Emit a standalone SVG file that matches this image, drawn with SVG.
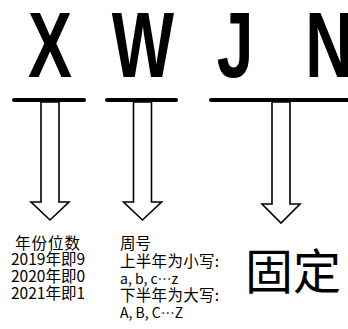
<svg xmlns="http://www.w3.org/2000/svg" width="348" height="329" viewBox="0 0 348 329" xml:lang="zh-CN" lang="zh-CN">
<style>
.big{font-family:"Liberation Sans",Arial,sans-serif;font-weight:bold;font-size:93px;fill:#000;text-anchor:middle}
.t{font-family:"Noto Sans CJK SC",sans-serif;font-size:15.5px;fill:#000}
.s{font-size:14px}
.bar{stroke:#000;stroke-width:4;stroke-linecap:round;fill:none}
.arr{fill:#fff;stroke:#000;stroke-width:1.6;stroke-linejoin:miter}
</style>
<rect width="348" height="329" fill="#fff"/>
<g id="letters">
<g transform="translate(50,77) scale(0.71,1)"><text class="big" x="0" y="0">X</text></g>
<g transform="translate(143,77) scale(0.71,1)"><text class="big" x="0" y="0">W</text></g>
<g transform="translate(235,77) scale(0.71,1)"><text class="big" x="0" y="0">J</text></g>
<g transform="translate(329,77) scale(0.71,1)"><text class="big" x="0" y="0">N</text></g>
</g>
<g id="connectors">
<line class="bar" x1="14" y1="100" x2="84" y2="100"/>
<line class="bar" x1="107" y1="100" x2="176" y2="100"/>
<line class="bar" x1="211" y1="100" x2="352" y2="100"/>
<polygon class="arr" points="41,102 41,202 31,202 50,220 69,202 59,202 59,102"/>
<polygon class="arr" points="133.5,102 133.5,202 123.5,202 142.5,220 161.5,202 151.5,202 151.5,102"/>
<polygon class="arr" points="272,102 272,204 262,204 281,223 300,204 290,204 290,102"/>
</g>
<g id="year">
<text class="t" x="48" y="249" text-anchor="middle" letter-spacing="1">年份位数</text>
<text class="t" x="48" y="265" text-anchor="middle">2019年即9</text>
<text class="t" x="48" y="282" text-anchor="middle">2020年即0</text>
<text class="t" x="48" y="299" text-anchor="middle">2021年即1</text>
</g>
<g id="week">
<text class="t" x="120" y="249">周号</text>
<text class="t" x="120" y="267" letter-spacing="0.3">上半年为小写:</text>
<text class="t s" x="120" y="284">a, b, c…z</text>
<text class="t" x="120" y="301" letter-spacing="0.3">下半年为大写:</text>
<text class="t s" x="120" y="318">A, B, C…Z</text>
</g>
<g id="fixed">
<text class="t" x="293" y="289" style="font-size:48px" text-anchor="middle">固定</text>
</g>
</svg>
